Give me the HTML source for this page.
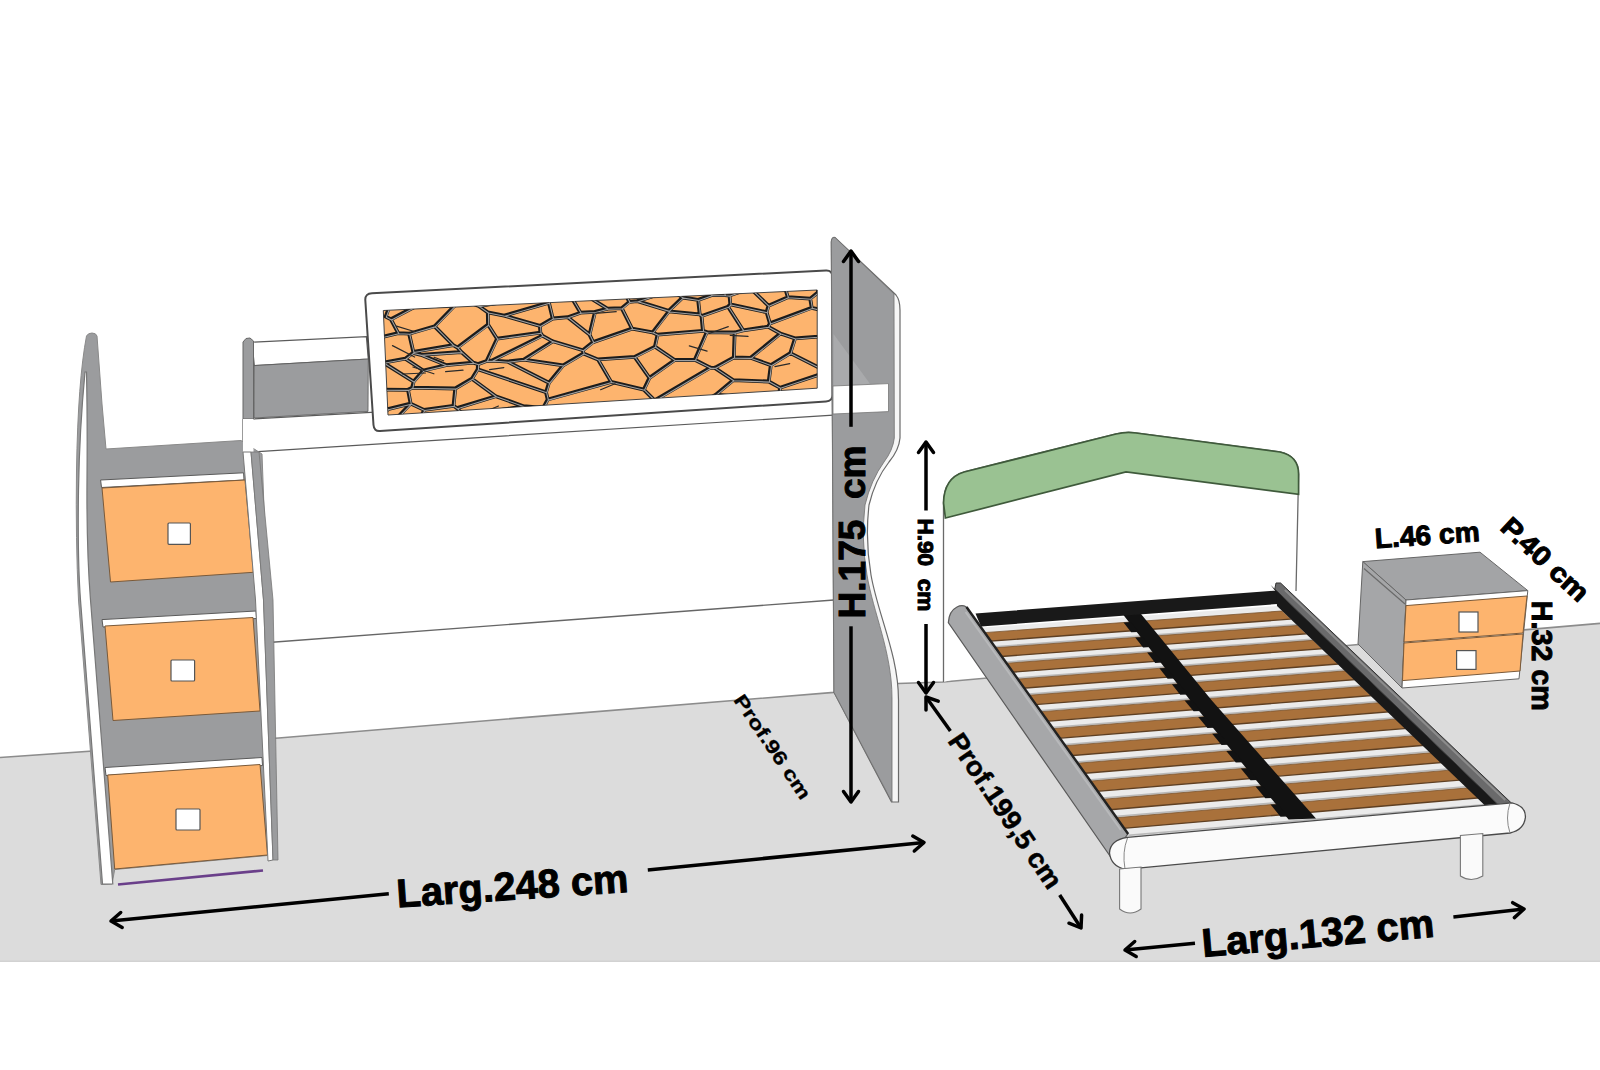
<!DOCTYPE html>
<html><head><meta charset="utf-8"><style>
html,body{margin:0;padding:0;background:#fff;width:1600px;height:1070px;overflow:hidden}
svg{display:block}
</style></head><body>
<svg width="1600" height="1070" viewBox="0 0 1600 1070">
<rect width="1600" height="1070" fill="#fff"/>
<polygon points="0.0,757.5 278.7,738.0 560.0,714.6 834.0,692.4 898.0,683.5 943.0,682.0 1353.0,645.0 1527.0,629.6 1600.0,623.4 1600.0,962.0 0.0,962.0" fill="#dcdcdc" stroke="none" stroke-width="0" />
<line x1="0.0" y1="961.3" x2="1600.0" y2="961.3" stroke="#d2d2d2" stroke-width="1.4" />
<polyline points="0.0,757.5 278.7,738.0 560.0,714.6 834.0,692.4 898.0,683.5 943.0,682.0 1353.0,645.0 1527.0,629.6 1600.0,623.4" fill="none" stroke="#8c8c8c" stroke-width="1.6"/>
<line x1="262.0" y1="643.0" x2="834.0" y2="600.0" stroke="#666" stroke-width="1.3" />
<polygon points="252.0,342.2 366.4,336.6 368.3,359.0 254.3,365.6" fill="#fff" stroke="#5a5a5a" stroke-width="1.2" />
<polygon points="254.3,365.6 368.3,359.0 368.0,411.4 254.0,418.0" fill="#9b9c9e" stroke="#5a5a5a" stroke-width="0.8" />
<polygon points="243.0,419.5 888.5,383.6 888.5,411.6 243.0,452.5" fill="#fff" stroke="#5a5a5a" stroke-width="1.2" />
<path d="M372,293.3 L826,270.5 Q832.4,270.2 832.6,277 L832.6,395 Q832.5,401 826,401.5 L380,431 Q374,431.5 373.5,425 L365.3,300 Q365,293.6 372,293.3 Z" fill="#fff" stroke="#4a4a4a" stroke-width="2" />
<polygon points="383.3,310.5 817.2,290.0 817.2,388.2 388.0,415.0" fill="#fdb46e" stroke="#444" stroke-width="1" />
<clipPath id="gclip"><polygon points="383.3,310.5 817.2,290.0 817.2,388.2 388.0,415.0"/></clipPath>
<g clip-path="url(#gclip)"><path d="M405.2,358.7L383.5,362.7 M405.2,358.7L423.3,370.5 M383.5,362.7L413.6,381.6 M423.3,370.5L413.6,381.6 M389.7,305.9L385.6,316.6 M398.2,333.1L390.9,319.3 M398.2,333.1L260.7,365.6 M207.1,372.8L260.7,365.6 M385.6,316.6L390.9,319.3 M464.6,300.7L454.5,305.7 M454.5,305.7L415.3,306.5 M399.0,303.8L415.3,306.5 M409.1,333.7L434.6,326.3 M409.1,333.7L398.2,333.1 M434.6,326.3L454.5,305.7 M390.9,319.3L415.3,306.5 M389.7,305.9L399.0,303.8 M523.5,406.2L495.7,396.2 M523.5,406.2L464.1,416.2 M495.7,396.2L456.9,408.1 M456.9,408.1L464.0,416.1 M464.1,416.2L464.0,416.1 M629.8,564.9L783.8,2116.1 M629.8,564.9L543.2,407.8 M783.8,2116.1L464.1,416.2 M543.2,407.8L523.5,406.2 M471.9,378.7L495.7,396.2 M471.9,378.7L455.2,388.5 M453.5,405.8L455.2,388.5 M453.5,405.8L456.9,408.1 M416.5,428.1L424.0,409.9 M416.5,428.1L464.0,416.1 M453.5,405.8L424.0,409.9 M271.5,565.3L416.5,428.1 M548.9,382.7L507.5,361.6 M548.9,382.7L546.0,392.2 M546.0,392.2L477.7,369.2 M507.5,361.6L492.1,360.5 M492.1,360.5L486.6,361.0 M486.6,361.0L478.0,364.1 M477.7,369.2L478.0,364.1 M523.8,359.6L563.1,365.4 M523.8,359.6L507.5,361.6 M563.1,365.4L548.9,382.7 M547.7,399.5L546.0,392.2 M547.7,399.5L611.1,381.9 M611.1,381.9L597.9,359.4 M597.9,359.4L583.4,353.4 M563.1,365.4L583.4,353.4 M543.2,407.8L547.7,399.5 M471.9,378.7L477.7,369.2 M423.3,370.5L446.0,365.1 M413.6,381.6L412.1,387.7 M446.0,365.1L473.2,362.6 M455.2,388.5L412.1,387.7 M473.2,362.6L478.0,364.1 M420.9,354.8L461.4,352.0 M420.9,354.8L412.8,352.9 M412.8,352.9L413.3,351.9 M413.3,351.9L453.2,345.2 M453.2,345.2L457.4,347.5 M457.4,347.5L461.4,352.0 M446.0,365.1L420.9,354.8 M473.2,362.6L461.4,352.0 M405.2,358.7L412.8,352.9 M409.1,333.7L413.3,351.9 M383.5,362.7L260.7,365.6 M434.6,326.3L453.2,345.2 M488.0,324.6L457.4,347.5 M488.0,324.6L487.8,312.4 M478.7,306.0L487.8,312.4 M478.7,306.0L464.6,300.7 M488.0,324.6L497.0,338.7 M497.0,338.7L486.6,361.0 M412.1,387.7L408.0,389.8 M207.1,372.8L356.5,389.4 M356.5,389.4L408.0,389.8 M424.0,409.9L410.6,403.6 M408.0,389.8L410.6,403.6 M497.0,338.7L540.3,332.6 M492.1,360.5L542.3,335.6 M540.3,332.6L542.3,335.6 M523.8,359.6L552.7,341.3 M542.3,335.6L552.7,341.3 M583.4,353.4L582.8,350.2 M552.7,341.3L582.8,350.2 M657.5,334.7L654.9,346.6 M657.5,334.7L652.6,332.4 M654.9,346.6L634.6,356.9 M652.6,332.4L632.0,328.6 M632.0,328.6L593.1,342.1 M597.9,359.4L634.6,356.9 M582.8,350.2L593.1,342.1 M621.7,308.1L632.0,328.6 M621.7,308.1L607.4,308.7 M593.1,342.1L589.5,334.6 M589.5,334.6L595.0,311.9 M595.0,311.9L607.4,308.7 M587.2,218.3L565.0,282.3 M587.2,218.3L629.3,301.9 M629.3,301.9L621.7,308.1 M607.4,308.7L565.0,282.3 M637.4,301.1L668.6,310.8 M637.4,301.1L671.3,290.2 M668.6,310.8L682.6,297.5 M671.3,290.2L682.6,297.5 M629.3,301.9L637.4,301.1 M668.8,311.4L668.6,310.8 M668.8,311.4L652.6,332.4 M790.3,353.1L770.8,365.1 M790.3,353.1L827.2,371.8 M770.8,365.1L768.7,381.5 M827.2,371.8L779.9,387.7 M779.9,387.7L768.7,381.5 M750.6,357.8L770.8,365.1 M750.6,357.8L780.3,333.5 M780.3,333.5L795.0,338.4 M795.0,338.4L790.3,353.1 M1129.0,338.4L827.2,371.8 M1129.0,338.4L977.7,331.4 M977.7,331.4L902.8,329.7 M902.8,329.7L795.0,338.4 M779.0,400.9L779.9,387.7 M779.0,400.9L715.8,394.6 M768.7,381.5L733.1,380.2 M715.8,394.6L733.1,380.2 M629.8,564.9L660.7,427.3 M715.8,394.6L660.7,427.3 M750.6,357.8L733.8,357.5 M733.8,357.5L714.7,367.8 M733.1,380.2L714.7,367.8 M668.8,311.4L699.7,314.4 M682.6,297.5L698.1,299.9 M698.1,299.9L699.7,314.4 M336.4,481.7L410.5,403.7 M336.4,481.7L387.8,409.2 M387.8,409.2L410.5,403.7 M271.5,565.3L336.4,481.7 M410.6,403.6L410.5,403.7 M356.5,389.4L387.8,409.2 M487.8,312.4L504.1,315.6 M540.3,332.6L539.9,325.9 M504.1,315.6L539.9,325.9 M694.8,359.8L710.3,367.6 M694.8,359.8L674.7,360.0 M710.3,367.6L654.6,400.4 M674.7,360.0L649.4,377.9 M649.4,377.9L643.8,389.6 M643.8,389.6L654.6,400.4 M714.7,367.8L710.3,367.6 M660.7,427.3L654.6,400.4 M654.9,346.6L674.7,360.0 M634.6,356.9L649.4,377.9 M611.1,381.9L643.8,389.6 M711.5,295.1L724.8,295.1 M711.5,295.1L685.3,251.2 M724.8,295.1L688.6,198.8 M685.3,251.2L688.6,198.8 M671.3,290.2L685.3,251.2 M698.1,299.9L711.5,295.1 M707.3,-397.0L756.4,280.8 M707.3,-397.0L688.6,198.8 M729.5,295.5L724.8,295.1 M729.5,295.5L750.3,288.2 M756.4,280.8L750.3,288.2 M670.7,-2362.7L587.2,218.3 M670.7,-2362.7L707.3,-397.0 M733.8,357.5L734.6,332.5 M694.8,359.8L706.8,332.1 M734.6,332.5L706.8,332.1 M657.5,334.7L702.9,330.8 M699.7,314.4L701.5,316.0 M701.5,316.0L702.9,330.8 M702.9,330.8L706.8,332.1 M552.7,318.5L548.9,302.7 M552.7,318.5L567.7,317.2 M567.7,317.2L580.5,312.7 M580.5,312.7L563.6,284.0 M548.9,302.7L550.4,294.3 M550.4,294.3L563.6,284.0 M504.1,315.6L548.9,302.7 M539.9,325.9L552.7,318.5 M589.5,334.6L567.7,317.2 M595.0,311.9L580.5,312.7 M565.0,282.3L563.6,284.0 M478.7,306.0L550.4,294.3 M784.9,287.4L787.8,297.2 M784.9,287.4L822.0,278.7 M787.8,297.2L810.2,298.6 M810.2,298.6L817.5,292.6 M822.0,278.7L817.5,292.6 M756.4,280.8L784.9,287.4 M750.3,288.2L768.4,305.7 M768.4,305.7L787.8,297.2 M977.7,331.4L817.5,292.6 M902.8,329.7L811.7,307.8 M811.7,307.8L810.2,298.6 M730.3,304.4L728.0,306.7 M730.3,304.4L766.6,312.2 M728.0,306.7L743.1,330.3 M766.6,312.2L769.9,323.4 M743.1,330.3L768.0,326.7 M768.0,326.7L769.9,323.4 M729.5,295.5L730.3,304.4 M701.5,316.0L728.0,306.7 M768.4,305.7L766.6,312.2 M734.6,332.5L743.1,330.3 M811.7,307.8L769.9,323.4 M780.3,333.5L768.0,326.7" stroke="#1c1c1c" stroke-width="3.8" fill="none" stroke-linejoin="round" stroke-linecap="round"/><path d="M405.2,358.7L383.5,362.7 M405.2,358.7L423.3,370.5 M383.5,362.7L413.6,381.6 M423.3,370.5L413.6,381.6 M389.7,305.9L385.6,316.6 M398.2,333.1L390.9,319.3 M398.2,333.1L260.7,365.6 M207.1,372.8L260.7,365.6 M385.6,316.6L390.9,319.3 M464.6,300.7L454.5,305.7 M454.5,305.7L415.3,306.5 M399.0,303.8L415.3,306.5 M409.1,333.7L434.6,326.3 M409.1,333.7L398.2,333.1 M434.6,326.3L454.5,305.7 M390.9,319.3L415.3,306.5 M389.7,305.9L399.0,303.8 M523.5,406.2L495.7,396.2 M523.5,406.2L464.1,416.2 M495.7,396.2L456.9,408.1 M456.9,408.1L464.0,416.1 M464.1,416.2L464.0,416.1 M629.8,564.9L783.8,2116.1 M629.8,564.9L543.2,407.8 M783.8,2116.1L464.1,416.2 M543.2,407.8L523.5,406.2 M471.9,378.7L495.7,396.2 M471.9,378.7L455.2,388.5 M453.5,405.8L455.2,388.5 M453.5,405.8L456.9,408.1 M416.5,428.1L424.0,409.9 M416.5,428.1L464.0,416.1 M453.5,405.8L424.0,409.9 M271.5,565.3L416.5,428.1 M548.9,382.7L507.5,361.6 M548.9,382.7L546.0,392.2 M546.0,392.2L477.7,369.2 M507.5,361.6L492.1,360.5 M492.1,360.5L486.6,361.0 M486.6,361.0L478.0,364.1 M477.7,369.2L478.0,364.1 M523.8,359.6L563.1,365.4 M523.8,359.6L507.5,361.6 M563.1,365.4L548.9,382.7 M547.7,399.5L546.0,392.2 M547.7,399.5L611.1,381.9 M611.1,381.9L597.9,359.4 M597.9,359.4L583.4,353.4 M563.1,365.4L583.4,353.4 M543.2,407.8L547.7,399.5 M471.9,378.7L477.7,369.2 M423.3,370.5L446.0,365.1 M413.6,381.6L412.1,387.7 M446.0,365.1L473.2,362.6 M455.2,388.5L412.1,387.7 M473.2,362.6L478.0,364.1 M420.9,354.8L461.4,352.0 M420.9,354.8L412.8,352.9 M412.8,352.9L413.3,351.9 M413.3,351.9L453.2,345.2 M453.2,345.2L457.4,347.5 M457.4,347.5L461.4,352.0 M446.0,365.1L420.9,354.8 M473.2,362.6L461.4,352.0 M405.2,358.7L412.8,352.9 M409.1,333.7L413.3,351.9 M383.5,362.7L260.7,365.6 M434.6,326.3L453.2,345.2 M488.0,324.6L457.4,347.5 M488.0,324.6L487.8,312.4 M478.7,306.0L487.8,312.4 M478.7,306.0L464.6,300.7 M488.0,324.6L497.0,338.7 M497.0,338.7L486.6,361.0 M412.1,387.7L408.0,389.8 M207.1,372.8L356.5,389.4 M356.5,389.4L408.0,389.8 M424.0,409.9L410.6,403.6 M408.0,389.8L410.6,403.6 M497.0,338.7L540.3,332.6 M492.1,360.5L542.3,335.6 M540.3,332.6L542.3,335.6 M523.8,359.6L552.7,341.3 M542.3,335.6L552.7,341.3 M583.4,353.4L582.8,350.2 M552.7,341.3L582.8,350.2 M657.5,334.7L654.9,346.6 M657.5,334.7L652.6,332.4 M654.9,346.6L634.6,356.9 M652.6,332.4L632.0,328.6 M632.0,328.6L593.1,342.1 M597.9,359.4L634.6,356.9 M582.8,350.2L593.1,342.1 M621.7,308.1L632.0,328.6 M621.7,308.1L607.4,308.7 M593.1,342.1L589.5,334.6 M589.5,334.6L595.0,311.9 M595.0,311.9L607.4,308.7 M587.2,218.3L565.0,282.3 M587.2,218.3L629.3,301.9 M629.3,301.9L621.7,308.1 M607.4,308.7L565.0,282.3 M637.4,301.1L668.6,310.8 M637.4,301.1L671.3,290.2 M668.6,310.8L682.6,297.5 M671.3,290.2L682.6,297.5 M629.3,301.9L637.4,301.1 M668.8,311.4L668.6,310.8 M668.8,311.4L652.6,332.4 M790.3,353.1L770.8,365.1 M790.3,353.1L827.2,371.8 M770.8,365.1L768.7,381.5 M827.2,371.8L779.9,387.7 M779.9,387.7L768.7,381.5 M750.6,357.8L770.8,365.1 M750.6,357.8L780.3,333.5 M780.3,333.5L795.0,338.4 M795.0,338.4L790.3,353.1 M1129.0,338.4L827.2,371.8 M1129.0,338.4L977.7,331.4 M977.7,331.4L902.8,329.7 M902.8,329.7L795.0,338.4 M779.0,400.9L779.9,387.7 M779.0,400.9L715.8,394.6 M768.7,381.5L733.1,380.2 M715.8,394.6L733.1,380.2 M629.8,564.9L660.7,427.3 M715.8,394.6L660.7,427.3 M750.6,357.8L733.8,357.5 M733.8,357.5L714.7,367.8 M733.1,380.2L714.7,367.8 M668.8,311.4L699.7,314.4 M682.6,297.5L698.1,299.9 M698.1,299.9L699.7,314.4 M336.4,481.7L410.5,403.7 M336.4,481.7L387.8,409.2 M387.8,409.2L410.5,403.7 M271.5,565.3L336.4,481.7 M410.6,403.6L410.5,403.7 M356.5,389.4L387.8,409.2 M487.8,312.4L504.1,315.6 M540.3,332.6L539.9,325.9 M504.1,315.6L539.9,325.9 M694.8,359.8L710.3,367.6 M694.8,359.8L674.7,360.0 M710.3,367.6L654.6,400.4 M674.7,360.0L649.4,377.9 M649.4,377.9L643.8,389.6 M643.8,389.6L654.6,400.4 M714.7,367.8L710.3,367.6 M660.7,427.3L654.6,400.4 M654.9,346.6L674.7,360.0 M634.6,356.9L649.4,377.9 M611.1,381.9L643.8,389.6 M711.5,295.1L724.8,295.1 M711.5,295.1L685.3,251.2 M724.8,295.1L688.6,198.8 M685.3,251.2L688.6,198.8 M671.3,290.2L685.3,251.2 M698.1,299.9L711.5,295.1 M707.3,-397.0L756.4,280.8 M707.3,-397.0L688.6,198.8 M729.5,295.5L724.8,295.1 M729.5,295.5L750.3,288.2 M756.4,280.8L750.3,288.2 M670.7,-2362.7L587.2,218.3 M670.7,-2362.7L707.3,-397.0 M733.8,357.5L734.6,332.5 M694.8,359.8L706.8,332.1 M734.6,332.5L706.8,332.1 M657.5,334.7L702.9,330.8 M699.7,314.4L701.5,316.0 M701.5,316.0L702.9,330.8 M702.9,330.8L706.8,332.1 M552.7,318.5L548.9,302.7 M552.7,318.5L567.7,317.2 M567.7,317.2L580.5,312.7 M580.5,312.7L563.6,284.0 M548.9,302.7L550.4,294.3 M550.4,294.3L563.6,284.0 M504.1,315.6L548.9,302.7 M539.9,325.9L552.7,318.5 M589.5,334.6L567.7,317.2 M595.0,311.9L580.5,312.7 M565.0,282.3L563.6,284.0 M478.7,306.0L550.4,294.3 M784.9,287.4L787.8,297.2 M784.9,287.4L822.0,278.7 M787.8,297.2L810.2,298.6 M810.2,298.6L817.5,292.6 M822.0,278.7L817.5,292.6 M756.4,280.8L784.9,287.4 M750.3,288.2L768.4,305.7 M768.4,305.7L787.8,297.2 M977.7,331.4L817.5,292.6 M902.8,329.7L811.7,307.8 M811.7,307.8L810.2,298.6 M730.3,304.4L728.0,306.7 M730.3,304.4L766.6,312.2 M728.0,306.7L743.1,330.3 M766.6,312.2L769.9,323.4 M743.1,330.3L768.0,326.7 M768.0,326.7L769.9,323.4 M729.5,295.5L730.3,304.4 M701.5,316.0L728.0,306.7 M768.4,305.7L766.6,312.2 M734.6,332.5L743.1,330.3 M811.7,307.8L769.9,323.4 M780.3,333.5L768.0,326.7" stroke="#a0a0a0" stroke-width="1.1" fill="none" stroke-linecap="round" transform="translate(0.7,0.6)"/><path d="M489.6,369.7L503.8,367.7 M730.3,335.4L748.0,336.4 M498.5,406.0L481.7,413.1 M396.5,326.1L415.1,331.8 M774.9,366.7L789.7,363.7 M709.1,333.5L728.3,326.6 M707.1,351.1L689.3,345.9 M412.9,367.0L433.9,373.8 M600.6,389.7L615.0,383.7 M425.4,373.0L402.7,374.0 M445.6,371.6L463.0,370.1 M443.6,360.8L434.1,357.2 M414.6,357.0L392.5,345.6 M616.2,311.7L595.5,313.3" stroke="#2a2a2a" stroke-width="1.2" fill="none" stroke-linecap="round"/></g>
<path d="M831.3,242 Q831.5,237 835,237.5 L896,295 Q900,300 900,310 L900,438 Q899,450 889,462 Q875,480 869,505 Q865,540 871,575 C878,615 898.5,655 898.5,700 L898.5,802 L891.5,802 L834,692.4 Z" fill="#f6f6f6" stroke="#6a6a6a" stroke-width="1.2" />
<path d="M831.3,242 Q831.5,237 835,237.5 L894,294 L894.3,438 Q893,450 884,462 Q871,480 865,505 Q861,540 867,575 C873,612 892,652 892,698 L892,802 L834,692.4 Z" fill="#9b9c9e" stroke="#707070" stroke-width="0.8" />
<polygon points="833.5,334.0 870.0,383.8 833.5,386.0" fill="#a9aaac" stroke="none" stroke-width="0" />
<polygon points="833.0,386.0 888.5,383.6 888.5,411.6 833.0,414.0" fill="#fff" stroke="#777" stroke-width="0.8" />
<path d="M86.5,336 Q88,333 92,333 Q96,333 97,336 L102,404 L106,449 L241,440.5 L262,454 L277,858 L267.5,855.5 L114.7,869.5 L112,884 L101,884.5 L78.5,600 Q75.5,540 76.5,470 Q78,380 86.5,336 Z" fill="#9b9c9e" stroke="#8a8a8a" stroke-width="1" />
<polygon points="100.6,480.0 243.6,472.8 244.0,480.0 101.5,487.5" fill="#fff" stroke="#5a5a5a" stroke-width="1" />
<polygon points="102.0,619.6 256.0,611.0 256.5,618.5 103.0,627.0" fill="#fff" stroke="#5a5a5a" stroke-width="1" />
<polygon points="105.0,767.5 262.0,757.5 262.5,765.5 106.0,775.5" fill="#fff" stroke="#5a5a5a" stroke-width="1" />
<polygon points="102.0,488.0 245.0,480.0 253.4,572.3 110.5,582.0" fill="#fdb46e" stroke="#7a5a3a" stroke-width="1" />
<rect x="168" y="523" width="22.400000000000006" height="21.299999999999955" fill="#fff" stroke="#555" stroke-width="1.2" rx="1"/>
<polygon points="105.0,626.0 253.0,617.5 260.0,711.0 113.0,720.5" fill="#fdb46e" stroke="#7a5a3a" stroke-width="1" />
<rect x="171" y="660" width="23.599999999999994" height="21" fill="#fff" stroke="#555" stroke-width="1.2" rx="1"/>
<polygon points="107.7,775.0 260.0,764.5 267.5,855.0 114.7,869.0" fill="#fdb46e" stroke="#7a5a3a" stroke-width="1" />
<rect x="176" y="809" width="24" height="21" fill="#fff" stroke="#555" stroke-width="1.2" rx="1"/>
<path d="M85,372 Q79.5,430 78.5,490 Q77.5,560 80.5,600 L102.5,884 L112.8,884 L90.5,600 Q86.5,550 87,480 Q87.5,420 86.5,372 Z" fill="#fff" stroke="#777" stroke-width="1.2" />
<polygon points="243.0,342.0 246.0,338.5 250.0,338.0 253.5,341.0 253.5,419.0 243.0,419.0" fill="#9b9c9e" stroke="#666" stroke-width="1" />
<polygon points="243.0,419.0 253.5,419.0 253.5,452.0 243.0,452.0" fill="#fff" stroke="none" stroke-width="0" />
<path d="M243,452 L251,452 L263.5,600 L273,860 L268,861 L255.5,600 Z" fill="#fff" stroke="#777" stroke-width="1" />
<path d="M251,452 L259,452 L273,600 L278,860 L273,860 L263.5,600 Z" fill="#9b9c9e" stroke="#777" stroke-width="0.8" />
<line x1="118.0" y1="884.5" x2="263.0" y2="870.5" stroke="#6a3f8a" stroke-width="2.6" />
<path d="M943.5,682 L943.5,503 Q944,478 964,472 L1116,434 Q1126,431.5 1136,433 L1280,452 Q1298.5,456 1298.6,474 L1296,591" fill="#fff" stroke="#6a6a6a" stroke-width="1.3" />
<path d="M943.5,503 Q944,478 964,472 L1116,434 Q1126,431.5 1136,433 L1280,452 Q1298.5,456 1298.6,474 L1298.6,494.3 L1126,471.9 L945.4,518 Z" fill="#9ac292" stroke="#3f5a3b" stroke-width="1.7" />
<polygon points="981.0,627.7 1277.0,606.0 1486.0,805.3 1129.7,837.2" fill="#ebebeb" stroke="none" stroke-width="0" />
<clipPath id="bclip"><polygon points="981.0,627.7 1277.0,606.0 1486.0,805.3 1129.7,837.2"/></clipPath>
<g clip-path="url(#bclip)">
<polygon points="954.6,634.8 1312.1,608.8 1320.6,616.9 960.6,643.3" fill="#a9713b"/>
<line x1="960.6" y1="643.3" x2="1320.6" y2="616.9" stroke="#5e3f22" stroke-width="1.4"/>
<line x1="954.6" y1="634.8" x2="1312.1" y2="608.8" stroke="#7a5430" stroke-width="0.8"/>
<line x1="964.6" y1="648.9" x2="1326.2" y2="622.3" stroke="#b9b9b9" stroke-width="1.6"/>
<polygon points="965.4,650.0 1327.2,623.3 1335.9,631.6 971.6,658.7" fill="#a9713b"/>
<line x1="971.6" y1="658.7" x2="1335.9" y2="631.6" stroke="#5e3f22" stroke-width="1.4"/>
<line x1="965.4" y1="650.0" x2="1327.2" y2="623.3" stroke="#7a5430" stroke-width="0.8"/>
<line x1="975.7" y1="664.4" x2="1341.7" y2="637.0" stroke="#b9b9b9" stroke-width="1.6"/>
<polygon points="976.4,665.5 1342.7,638.1 1351.6,646.5 982.7,674.4" fill="#a9713b"/>
<line x1="982.7" y1="674.4" x2="1351.6" y2="646.5" stroke="#5e3f22" stroke-width="1.4"/>
<line x1="976.4" y1="665.5" x2="1342.7" y2="638.1" stroke="#7a5430" stroke-width="0.8"/>
<line x1="986.9" y1="680.3" x2="1357.5" y2="652.1" stroke="#b9b9b9" stroke-width="1.6"/>
<polygon points="987.7,681.4 1358.6,653.2 1367.6,661.8 994.1,690.5" fill="#a9713b"/>
<line x1="994.1" y1="690.5" x2="1367.6" y2="661.8" stroke="#5e3f22" stroke-width="1.4"/>
<line x1="987.7" y1="681.4" x2="1358.6" y2="653.2" stroke="#7a5430" stroke-width="0.8"/>
<line x1="998.4" y1="696.5" x2="1373.6" y2="667.5" stroke="#b9b9b9" stroke-width="1.6"/>
<polygon points="999.2,697.6 1374.7,668.6 1384.0,677.4 1005.8,706.9" fill="#a9713b"/>
<line x1="1005.8" y1="706.9" x2="1384.0" y2="677.4" stroke="#5e3f22" stroke-width="1.4"/>
<line x1="999.2" y1="697.6" x2="1374.7" y2="668.6" stroke="#7a5430" stroke-width="0.8"/>
<line x1="1010.1" y1="713.0" x2="1390.1" y2="683.2" stroke="#b9b9b9" stroke-width="1.6"/>
<polygon points="1010.9,714.1 1391.2,684.3 1400.7,693.3 1017.6,723.6" fill="#a9713b"/>
<line x1="1017.6" y1="723.6" x2="1400.7" y2="693.3" stroke="#5e3f22" stroke-width="1.4"/>
<line x1="1010.9" y1="714.1" x2="1391.2" y2="684.3" stroke="#7a5430" stroke-width="0.8"/>
<line x1="1022.1" y1="729.8" x2="1406.9" y2="699.3" stroke="#b9b9b9" stroke-width="1.6"/>
<polygon points="1022.9,731.0 1408.1,700.4 1417.7,709.5 1029.7,740.6" fill="#a9713b"/>
<line x1="1029.7" y1="740.6" x2="1417.7" y2="709.5" stroke="#5e3f22" stroke-width="1.4"/>
<line x1="1022.9" y1="731.0" x2="1408.1" y2="700.4" stroke="#7a5430" stroke-width="0.8"/>
<line x1="1034.3" y1="747.0" x2="1424.0" y2="715.6" stroke="#b9b9b9" stroke-width="1.6"/>
<polygon points="1035.1,748.2 1425.2,716.7 1435.0,726.1 1042.1,758.0" fill="#a9713b"/>
<line x1="1042.1" y1="758.0" x2="1435.0" y2="726.1" stroke="#5e3f22" stroke-width="1.4"/>
<line x1="1035.1" y1="748.2" x2="1425.2" y2="716.7" stroke="#7a5430" stroke-width="0.8"/>
<line x1="1046.7" y1="764.5" x2="1441.5" y2="732.3" stroke="#b9b9b9" stroke-width="1.6"/>
<polygon points="1047.6,765.7 1442.7,733.4 1452.7,742.9 1054.7,775.8" fill="#a9713b"/>
<line x1="1054.7" y1="775.8" x2="1452.7" y2="742.9" stroke="#5e3f22" stroke-width="1.4"/>
<line x1="1047.6" y1="765.7" x2="1442.7" y2="733.4" stroke="#7a5430" stroke-width="0.8"/>
<line x1="1059.4" y1="782.4" x2="1459.3" y2="749.2" stroke="#b9b9b9" stroke-width="1.6"/>
<polygon points="1060.2,783.6 1460.5,750.4 1470.7,760.1 1067.5,793.8" fill="#a9713b"/>
<line x1="1067.5" y1="793.8" x2="1470.7" y2="760.1" stroke="#5e3f22" stroke-width="1.4"/>
<line x1="1060.2" y1="783.6" x2="1460.5" y2="750.4" stroke="#7a5430" stroke-width="0.8"/>
<line x1="1072.3" y1="800.5" x2="1477.4" y2="766.5" stroke="#b9b9b9" stroke-width="1.6"/>
<polygon points="1073.2,801.8 1478.7,767.7 1489.1,777.6 1080.5,812.2" fill="#a9713b"/>
<line x1="1080.5" y1="812.2" x2="1489.1" y2="777.6" stroke="#5e3f22" stroke-width="1.4"/>
<line x1="1073.2" y1="801.8" x2="1478.7" y2="767.7" stroke="#7a5430" stroke-width="0.8"/>
<line x1="1085.4" y1="819.0" x2="1495.9" y2="784.1" stroke="#b9b9b9" stroke-width="1.6"/>
<polygon points="1086.3,820.3 1497.2,785.4 1507.7,795.4 1093.8,830.9" fill="#a9713b"/>
<line x1="1093.8" y1="830.9" x2="1507.7" y2="795.4" stroke="#5e3f22" stroke-width="1.4"/>
<line x1="1086.3" y1="820.3" x2="1497.2" y2="785.4" stroke="#7a5430" stroke-width="0.8"/>
<line x1="1098.8" y1="837.9" x2="1514.7" y2="802.0" stroke="#b9b9b9" stroke-width="1.6"/>
</g>
<polygon points="1114.0,603.0 1132.0,603.0 1211.4,700.0 1316.0,818.5 1288.6,819.5 1190.0,700.0" fill="#121212" stroke="none" stroke-width="0" />
<polygon points="1123.5,622.4 1131.0,622.1 1138.7,632.0 1131.2,632.3" fill="#121212" stroke="none" stroke-width="0" />
<polygon points="1135.2,637.4 1142.7,637.1 1150.6,647.1 1143.1,647.4" fill="#121212" stroke="none" stroke-width="0" />
<polygon points="1147.2,652.6 1154.7,652.3 1162.7,662.6 1155.2,662.9" fill="#121212" stroke="none" stroke-width="0" />
<polygon points="1159.4,668.2 1166.9,667.9 1175.1,678.4 1167.6,678.7" fill="#121212" stroke="none" stroke-width="0" />
<polygon points="1171.9,684.2 1179.4,683.9 1187.7,694.5 1180.2,694.8" fill="#121212" stroke="none" stroke-width="0" />
<polygon points="1184.6,700.4 1192.1,700.1 1201.1,711.0 1193.6,711.3" fill="#121212" stroke="none" stroke-width="0" />
<polygon points="1198.2,717.0 1205.7,716.7 1214.9,727.7 1207.4,728.0" fill="#121212" stroke="none" stroke-width="0" />
<polygon points="1212.2,733.8 1219.7,733.5 1229.0,744.8 1221.5,745.1" fill="#121212" stroke="none" stroke-width="0" />
<polygon points="1226.3,751.0 1233.8,750.7 1243.3,762.2 1235.8,762.5" fill="#121212" stroke="none" stroke-width="0" />
<polygon points="1240.8,768.5 1248.3,768.2 1258.0,779.9 1250.5,780.2" fill="#121212" stroke="none" stroke-width="0" />
<polygon points="1255.5,786.4 1263.0,786.1 1272.8,798.0 1265.3,798.3" fill="#121212" stroke="none" stroke-width="0" />
<polygon points="1270.5,804.5 1278.0,804.2 1288.0,816.4 1280.5,816.7" fill="#121212" stroke="none" stroke-width="0" />
<path d="M975.5,613.4 L1270,591 Q1280,589.6 1284,595 L1277,604 L981,626.5 Z" fill="#191919" stroke="none" stroke-width="0" />
<polygon points="1276.0,592.0 1270.7,585.0 1499.5,806.0 1485.5,806.0 1277.0,606.0" fill="#191919" stroke="none" stroke-width="0" />
<polygon points="1276.0,583.0 1280.6,583.0 1511.4,803.0 1499.5,806.0 1274.8,589.0" fill="#6a6a6b" stroke="#333" stroke-width="1" />
<line x1="1284.9" y1="590.0" x2="1505.2" y2="800.0" stroke="#8c8c8c" stroke-width="2" />
<path d="M948.3,622.7 Q949,611 957,607 Q962,604.5 966,606.8 L1127.7,834 L1111.4,858 Z" fill="#a6a7a9" stroke="#5a5a5a" stroke-width="1.2" />
<line x1="965.6" y1="612.0" x2="1120.8" y2="830.0" stroke="#b8b9bb" stroke-width="2" />
<line x1="966.5" y1="607.0" x2="1128.2" y2="834.0" stroke="#222" stroke-width="2.4" />
<path d="M1127.5,837.4 L1512,802.8 Q1526,806 1525.4,817.4 Q1524,830 1510,833 L1125,869.3 Q1111,866 1109.5,853 Q1110,840 1127.5,837.4 Z" fill="#fbfbfb" stroke="#4a4a4a" stroke-width="1.3" />
<path d="M1127.5,838 Q1122,852 1125,869" fill="none" stroke="#888" stroke-width="1" />
<path d="M1510,803 Q1505,818 1510,833" fill="none" stroke="#888" stroke-width="1" />
<path d="M1119.6,869 L1119.6,909 Q1130,917 1141,909 L1141,867 Z" fill="#fafafa" stroke="#777" stroke-width="1.1" />
<path d="M1460.4,835.5 L1460.4,876 Q1471,883 1482.8,876 L1482.8,833.5 Z" fill="#fafafa" stroke="#777" stroke-width="1.1" />
<polygon points="1362.8,561.6 1480.0,552.2 1527.8,590.6 1406.0,600.0" fill="#a3a4a6" stroke="#666" stroke-width="1" />
<polygon points="1362.8,561.6 1406.0,600.0 1402.0,688.0 1358.0,644.0" fill="#a5a6a8" stroke="#666" stroke-width="1" />
<line x1="1364.0" y1="568.5" x2="1405.0" y2="604.0" stroke="#6a6a6a" stroke-width="1.2" />
<polygon points="1406.0,600.0 1527.8,590.6 1519.0,678.8 1402.0,688.0" fill="#fff" stroke="#666" stroke-width="1" />
<polygon points="1406.0,605.6 1527.0,596.0 1523.0,633.0 1404.0,642.0" fill="#fdb46e" stroke="#7a5a3a" stroke-width="1" />
<polygon points="1404.0,643.0 1523.0,634.0 1520.0,671.0 1402.5,680.6" fill="#fdb46e" stroke="#7a5a3a" stroke-width="1" />
<rect x="1459" y="612" width="19" height="20" fill="#fff" stroke="#555" stroke-width="1.2"/>
<rect x="1456.6" y="650.6" width="19.4" height="18.8" fill="#fff" stroke="#555" stroke-width="1.2"/>
<line x1="851.0" y1="426.8" x2="851.0" y2="251.0" stroke="#000" stroke-width="3.5" />
<polyline points="858.5,261.5 851.0,251.0 843.5,261.5" fill="none" stroke="#000" stroke-width="3.5" stroke-linecap="round" stroke-linejoin="round"/>
<line x1="851.0" y1="626.3" x2="851.0" y2="802.0" stroke="#000" stroke-width="3.5" />
<polyline points="843.5,791.5 851.0,802.0 858.5,791.5" fill="none" stroke="#000" stroke-width="3.5" stroke-linecap="round" stroke-linejoin="round"/>
<line x1="926.0" y1="510.5" x2="926.0" y2="442.0" stroke="#000" stroke-width="3.5" />
<polyline points="933.5,452.5 926.0,442.0 918.5,452.5" fill="none" stroke="#000" stroke-width="3.5" stroke-linecap="round" stroke-linejoin="round"/>
<line x1="926.0" y1="624.0" x2="926.0" y2="693.0" stroke="#000" stroke-width="3.5" />
<polyline points="918.5,682.5 926.0,693.0 933.5,682.5" fill="none" stroke="#000" stroke-width="3.5" stroke-linecap="round" stroke-linejoin="round"/>
<line x1="388.8" y1="893.8" x2="111.0" y2="921.0" stroke="#000" stroke-width="3.5" />
<polyline points="120.7,912.5 111.0,921.0 122.2,927.4" fill="none" stroke="#000" stroke-width="3.5" stroke-linecap="round" stroke-linejoin="round"/>
<line x1="647.8" y1="870.0" x2="924.0" y2="842.5" stroke="#000" stroke-width="3.5" />
<polyline points="914.3,851.0 924.0,842.5 912.8,836.1" fill="none" stroke="#000" stroke-width="3.5" stroke-linecap="round" stroke-linejoin="round"/>
<line x1="950.4" y1="731.0" x2="926.0" y2="697.0" stroke="#000" stroke-width="3.5" />
<polyline points="938.2,701.2 926.0,697.0 926.0,709.9" fill="none" stroke="#000" stroke-width="3.5" stroke-linecap="round" stroke-linejoin="round"/>
<line x1="1059.7" y1="895.0" x2="1081.0" y2="928.0" stroke="#000" stroke-width="3.5" />
<polyline points="1069.0,923.2 1081.0,928.0 1081.6,915.1" fill="none" stroke="#000" stroke-width="3.5" stroke-linecap="round" stroke-linejoin="round"/>
<line x1="1195.0" y1="943.2" x2="1125.0" y2="950.0" stroke="#000" stroke-width="3.5" />
<polyline points="1134.7,941.5 1125.0,950.0 1136.2,956.5" fill="none" stroke="#000" stroke-width="3.5" stroke-linecap="round" stroke-linejoin="round"/>
<line x1="1453.4" y1="917.0" x2="1524.0" y2="909.0" stroke="#000" stroke-width="3.5" />
<polyline points="1514.4,917.6 1524.0,909.0 1512.7,902.7" fill="none" stroke="#000" stroke-width="3.5" stroke-linecap="round" stroke-linejoin="round"/>
<text x="0" y="0" transform="translate(397.5,907.5) rotate(-3.9)" font-family="Liberation Sans, sans-serif" font-weight="bold" font-size="40" fill="#000" stroke="#000" stroke-width="1.0" textLength="232" lengthAdjust="spacingAndGlyphs">Larg.248 cm</text>
<text x="0" y="0" transform="translate(1203,957) rotate(-5)" font-family="Liberation Sans, sans-serif" font-weight="bold" font-size="40" fill="#000" stroke="#000" stroke-width="1.0" textLength="233" lengthAdjust="spacingAndGlyphs">Larg.132 cm</text>
<text x="0" y="0" transform="translate(865,618.5) rotate(-90)" font-family="Liberation Sans, sans-serif" font-weight="bold" font-size="37" fill="#000" stroke="#000" stroke-width="1.0" textLength="173" lengthAdjust="spacingAndGlyphs">H.175&#160;&#160;cm</text>
<text x="0" y="0" transform="translate(918,518.4) rotate(90)" font-family="Liberation Sans, sans-serif" font-weight="bold" font-size="21.5" fill="#000" stroke="#000" stroke-width="1.0" textLength="93" lengthAdjust="spacingAndGlyphs">H.90&#160;&#160;cm</text>
<text x="0" y="0" transform="translate(1375.4,548.3) rotate(-4)" font-family="Liberation Sans, sans-serif" font-weight="bold" font-size="28" fill="#000" stroke="#000" stroke-width="1.0" textLength="105" lengthAdjust="spacingAndGlyphs">L.46 cm</text>
<text x="0" y="0" transform="translate(1532,600.8) rotate(90)" font-family="Liberation Sans, sans-serif" font-weight="bold" font-size="29" fill="#000" stroke="#000" stroke-width="1.0" textLength="110" lengthAdjust="spacingAndGlyphs">H.32 cm</text>
<text x="0" y="0" transform="translate(1499,529) rotate(43)" font-family="Liberation Sans, sans-serif" font-weight="bold" font-size="27" fill="#000" stroke="#000" stroke-width="1.0" textLength="109" lengthAdjust="spacingAndGlyphs">P.40 cm</text>
<text x="0" y="0" transform="translate(947,741) rotate(56)" font-family="Liberation Sans, sans-serif" font-weight="bold" font-size="27" fill="#000" stroke="#000" stroke-width="0.5" textLength="181" lengthAdjust="spacingAndGlyphs">Prof.199,5 cm</text>
<text x="0" y="0" transform="translate(733,700) rotate(56)" font-family="Liberation Sans, sans-serif" font-weight="bold" font-size="19" fill="#000" stroke="#000" stroke-width="0.3" textLength="122" lengthAdjust="spacingAndGlyphs">Prof.96 cm</text>
</svg></body></html>
